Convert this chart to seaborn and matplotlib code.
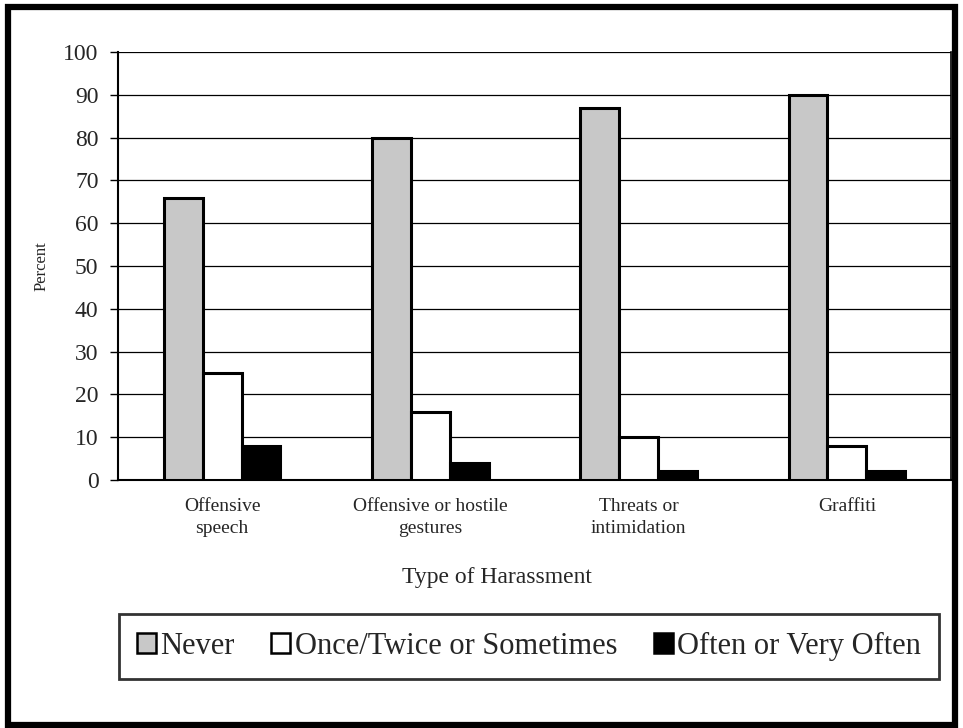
import matplotlib
matplotlib.use("Agg")
import matplotlib.pyplot as plt
import seaborn as sns
import pandas as pd
from matplotlib.patches import Rectangle, Patch

categories = ["Offensive\nspeech", "Offensive or hostile\ngestures", "Threats or\nintimidation", "Graffiti"]
series = ["Never", "Once/Twice or Sometimes", "Often or Very Often"]
never = [66, 80, 87, 90]
once_twice = [25, 16, 10, 8]
often = [8, 4, 2, 2]
yticks = [0, 10, 20, 30, 40, 50, 60, 70, 80, 90, 100]

rows = []
for name, vals in zip(series, [never, once_twice, often]):
    for c, v in zip(categories, vals):
        rows.append({"cat": c, "series": name, "value": v})
df = pd.DataFrame(rows)

sns.set_style("white")
plt.rcParams["font.family"] = ["Liberation Serif", "DejaVu Serif"]

colors = ["#c8c8c8", "#ffffff", "#000000"]
fig = plt.figure(figsize=(9.63, 7.28), dpi=100)
ax = fig.add_axes([118/963, 1-480/728, (951-118)/963, (480-52)/728])

sns.barplot(data=df, x="cat", y="value", hue="series", order=categories,
            hue_order=series, palette=colors, width=0.56, saturation=1,
            edgecolor="black", linewidth=2.2, ax=ax, legend=False, zorder=3)

ax.set_ylim(0, 100)
ax.set_xlim(-0.5, 3.5)
ax.set_yticks(yticks)
ax.set_yticklabels([str(t) for t in yticks], fontsize=17)
ax.yaxis.grid(True, color="black", linewidth=0.9, zorder=0)
ax.set_axisbelow(True)
ax.set_xticks([0, 1, 2, 3])
ax.set_xticklabels(categories, fontsize=14, linespacing=1.35)
ax.set_xticks([-0.5, 0.5, 1.5, 2.5, 3.5], minor=True)
ax.tick_params(axis="x", which="major", length=0, pad=13)
ax.tick_params(axis="x", which="minor", length=6, width=1, direction="out", color="black")
ax.tick_params(axis="y", length=6, width=1, direction="out", color="black", left=True, pad=8)
for s in ["left", "bottom"]:
    ax.spines[s].set_color("black")
    ax.spines[s].set_linewidth(1.5)
ax.spines["top"].set_visible(False)
ax.spines["right"].set_color("black")
ax.spines["right"].set_linewidth(1.2)
ax.set_ylabel("Percent", fontsize=12)
ax.yaxis.set_label_coords(-(118-42)/(951-118), 0.5)
ax.yaxis.label.set_va("center")
ax.set_xlabel("Type of Harassment", fontsize=17)
ax.xaxis.set_label_coords((497-118)/(951-118), -(577-480)/(480-52))
ax.xaxis.label.set_va("center")

handles = [Patch(facecolor=c, edgecolor="black", linewidth=1.8) for c in colors]
leg = fig.legend(handles, series, loc="center", bbox_to_anchor=(529/963, 1-646.5/728),
                 ncol=3, fontsize=22, frameon=True, fancybox=False,
                 handlelength=0.62, handleheight=0.65, handletextpad=0.15,
                 columnspacing=1.2, borderpad=0.58)
leg.get_frame().set_edgecolor("black")
leg.get_frame().set_linewidth(2)

fig.patches.append(Rectangle((8/963, 3/728), 947/963, 718/728, transform=fig.transFigure,
                             fill=False, edgecolor="black", linewidth=4.5))

fig.savefig("out.png", dpi=100, facecolor="white")
